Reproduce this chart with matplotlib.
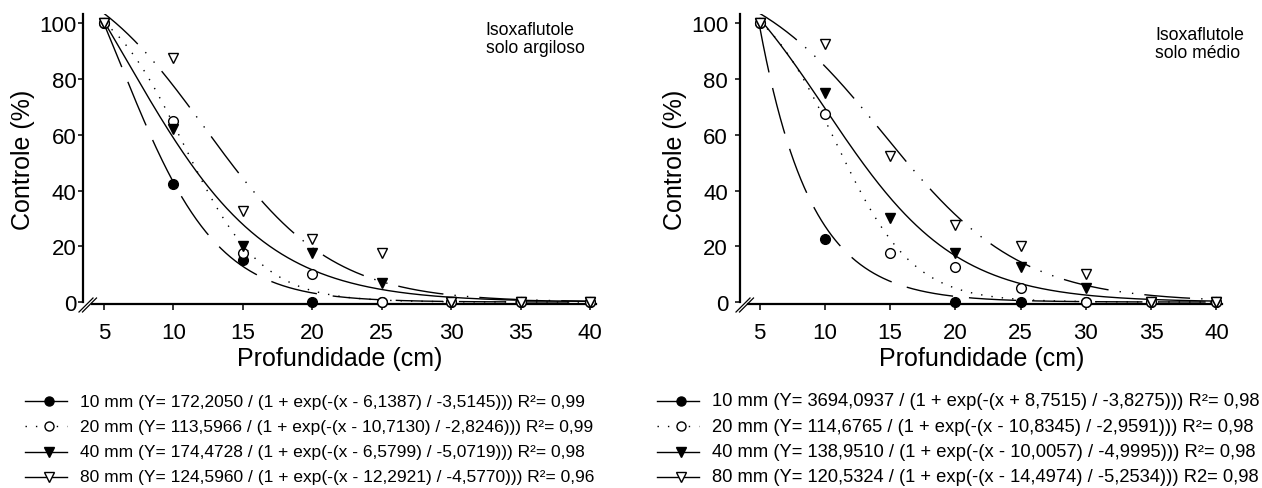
import matplotlib.pyplot as plt
from matplotlib.lines import Line2D
import numpy as np

plt.rcParams['font.family'] = ['Liberation Sans', 'DejaVu Sans']

depth = [5, 10, 15, 20, 25, 30, 35, 40]

# solo argiloso (observed control %)
arg_10 = [100, 42.5, 15, 0, 0, 0, 0, 0]
arg_20 = [100, 65, 17.5, 10, 0, 0, 0, 0]
arg_40 = [100, 62, 20, 17.5, 7, 0, 0, 0]
arg_80 = [100, 87.5, 32.5, 22.5, 17.5, 0, 0, 0]

# solo medio (observed control %)
med_10 = [100, 22.5, np.nan, 0, 0, 0, 0, 0]
med_20 = [100, 67.5, 17.5, 12.5, 5, 0, 0, 0]
med_40 = [100, 75, 30, 17.5, 12.5, 5, 0, 0]
med_80 = [100, 92.5, 52.5, 27.5, 20, 10, 0, 0]

# fitted parameters (a, x0, b) of Y = a / (1 + exp(-(x - x0) / b))
arg_fit = [(172.2050, 6.1387, -3.5145),
           (113.5966, 10.7130, -2.8246),
           (174.4728, 6.5799, -5.0719),
           (124.5960, 12.2921, -4.5770)]
med_fit = [(3694.0937, -8.7515, -3.8275),
           (114.6765, 10.8345, -2.9591),
           (138.9510, 10.0057, -4.9995),
           (120.5324, 14.4974, -5.2534)]

arg_labels = [
    "10 mm (Y= 172,2050 / (1 + exp(-(x - 6,1387) / -3,5145))) R\u00b2= 0,99",
    "20 mm (Y= 113,5966 / (1 + exp(-(x - 10,7130) / -2,8246))) R\u00b2= 0,99",
    "40 mm (Y= 174,4728 / (1 + exp(-(x - 6,5799) / -5,0719))) R\u00b2= 0,98",
    "80 mm (Y= 124,5960 / (1 + exp(-(x - 12,2921) / -4,5770))) R\u00b2= 0,96",
]
med_labels = [
    "10 mm (Y= 3694,0937 / (1 + exp(-(x + 8,7515) / -3,8275))) R\u00b2= 0,98",
    "20 mm (Y= 114,6765 / (1 + exp(-(x - 10,8345) / -2,9591))) R\u00b2= 0,98",
    "40 mm (Y= 138,9510 / (1 + exp(-(x - 10,0057) / -4,9995))) R\u00b2= 0,98",
    "80 mm (Y= 120,5324 / (1 + exp(-(x - 14,4974) / -5,2534))) R2= 0,98",
]

# styles per rain amount: curve linestyle, marker, face colour
curve_ls = [(0, (34, 11.5)), (0, (1, 6.5)), '-', (0, (33, 8, 1, 8, 1, 8))]
legend_ls = ['-', (0, (1, 6.5)), '-', '-']
markers = ['o', 'o', 'v', 'v']
faces = ['black', 'white', 'black', 'white']
msizes = [7, 7, 7.5, 7.5]

W, H = 1262, 489
fig = plt.figure(figsize=(W / 100, H / 100), dpi=100)


def logistic(x, a, x0, b):
    return a / (1 + np.exp(-(x - x0) / b))


def draw_panel(rect, series, fits, note, note_xy, ypad):
    ax = fig.add_axes(rect)
    xs = np.linspace(5, 40, 400)
    for i in range(4):
        a, x0, b = fits[i]
        ax.plot(xs, logistic(xs, a, x0, b), color='black', lw=1.0,
                linestyle=curve_ls[i])
    for i in range(4):
        ax.plot(depth, series[i], linestyle='none', marker=markers[i],
                markersize=msizes[i], markerfacecolor=faces[i],
                markeredgecolor='black', markeredgewidth=1.0, clip_on=False,
                zorder=3)
    ax.set_xlim(3.5, 40.5)
    ax.set_ylim(-0.7, 103.3)
    ax.spines['top'].set_visible(False)
    ax.spines['right'].set_visible(False)
    ax.spines['left'].set_bounds(0, 103.3)
    ax.spines['bottom'].set_bounds(4.15, 40.4)
    for s in ['left', 'bottom']:
        ax.spines[s].set_linewidth(1.6)
    ax.set_xticks(depth)
    ax.set_yticks([0, 20, 40, 60, 80, 100])
    ax.tick_params(axis='x', direction='out', length=4.3, width=1.1,
                   labelsize=16, pad=8.5)
    ax.tick_params(axis='y', direction='out', length=3.6, width=1.1,
                   labelsize=16, pad=ypad)
    ax.set_xlabel('Profundidade (cm)', fontsize=18, labelpad=2)
    ax.set_ylabel('Controle (%)', fontsize=18, labelpad=3)
    ax.text(note_xy[0], note_xy[1], note, fontsize=12.7, va='top',
            ha='left', linespacing=1.1)

    # axis break marks "//" at the corner
    bx = rect[0] * W
    by = (1 - rect[1]) * H
    for off in (0, 3.5):
        x0p, y0p = bx - 4 + off, by + 8
        x1p, y1p = bx + 10 + off, by - 6
        fig.add_artist(Line2D([x0p / W, x1p / W], [1 - y0p / H, 1 - y1p / H],
                              transform=fig.transFigure, color='black',
                              lw=0.9))
    return ax


left = draw_panel([83 / W, 1 - 305 / H, 514 / W, 290 / H],
                  [arg_10, arg_20, arg_40, arg_80], arg_fit,
                  'Isoxaflutole\nsolo argiloso', (32.5, 100.8), 1)
right = draw_panel([740 / W, 1 - 305 / H, 483 / W, 290 / H],
                   [med_10, med_20, med_40, med_80], med_fit,
                   'Isoxaflutole\nsolo m\u00e9dio', (35.3, 99.0), 5)


def draw_legend(text_x, labels, fsize):
    for i in range(4):
        yp = 402 + 25.3 * i
        yf = 1 - yp / H
        fig.add_artist(Line2D([(text_x - 55) / W, (text_x - 13) / W], [yf, yf],
                              transform=fig.transFigure, color='black',
                              lw=1.0, linestyle=legend_ls[i]))
        fig.add_artist(Line2D([(text_x - 31) / W], [yf],
                              transform=fig.transFigure, linestyle='none',
                              marker=markers[i], markersize=msizes[i] - 0.5,
                              markerfacecolor=faces[i],
                              markeredgecolor='black', markeredgewidth=1.0))
        fig.text(text_x / W, yf, labels[i], fontsize=fsize, va='center',
                 ha='left')


draw_legend(80, arg_labels, 12.5)
draw_legend(712, med_labels, 13.2)

fig.savefig('out.png', dpi=100)
